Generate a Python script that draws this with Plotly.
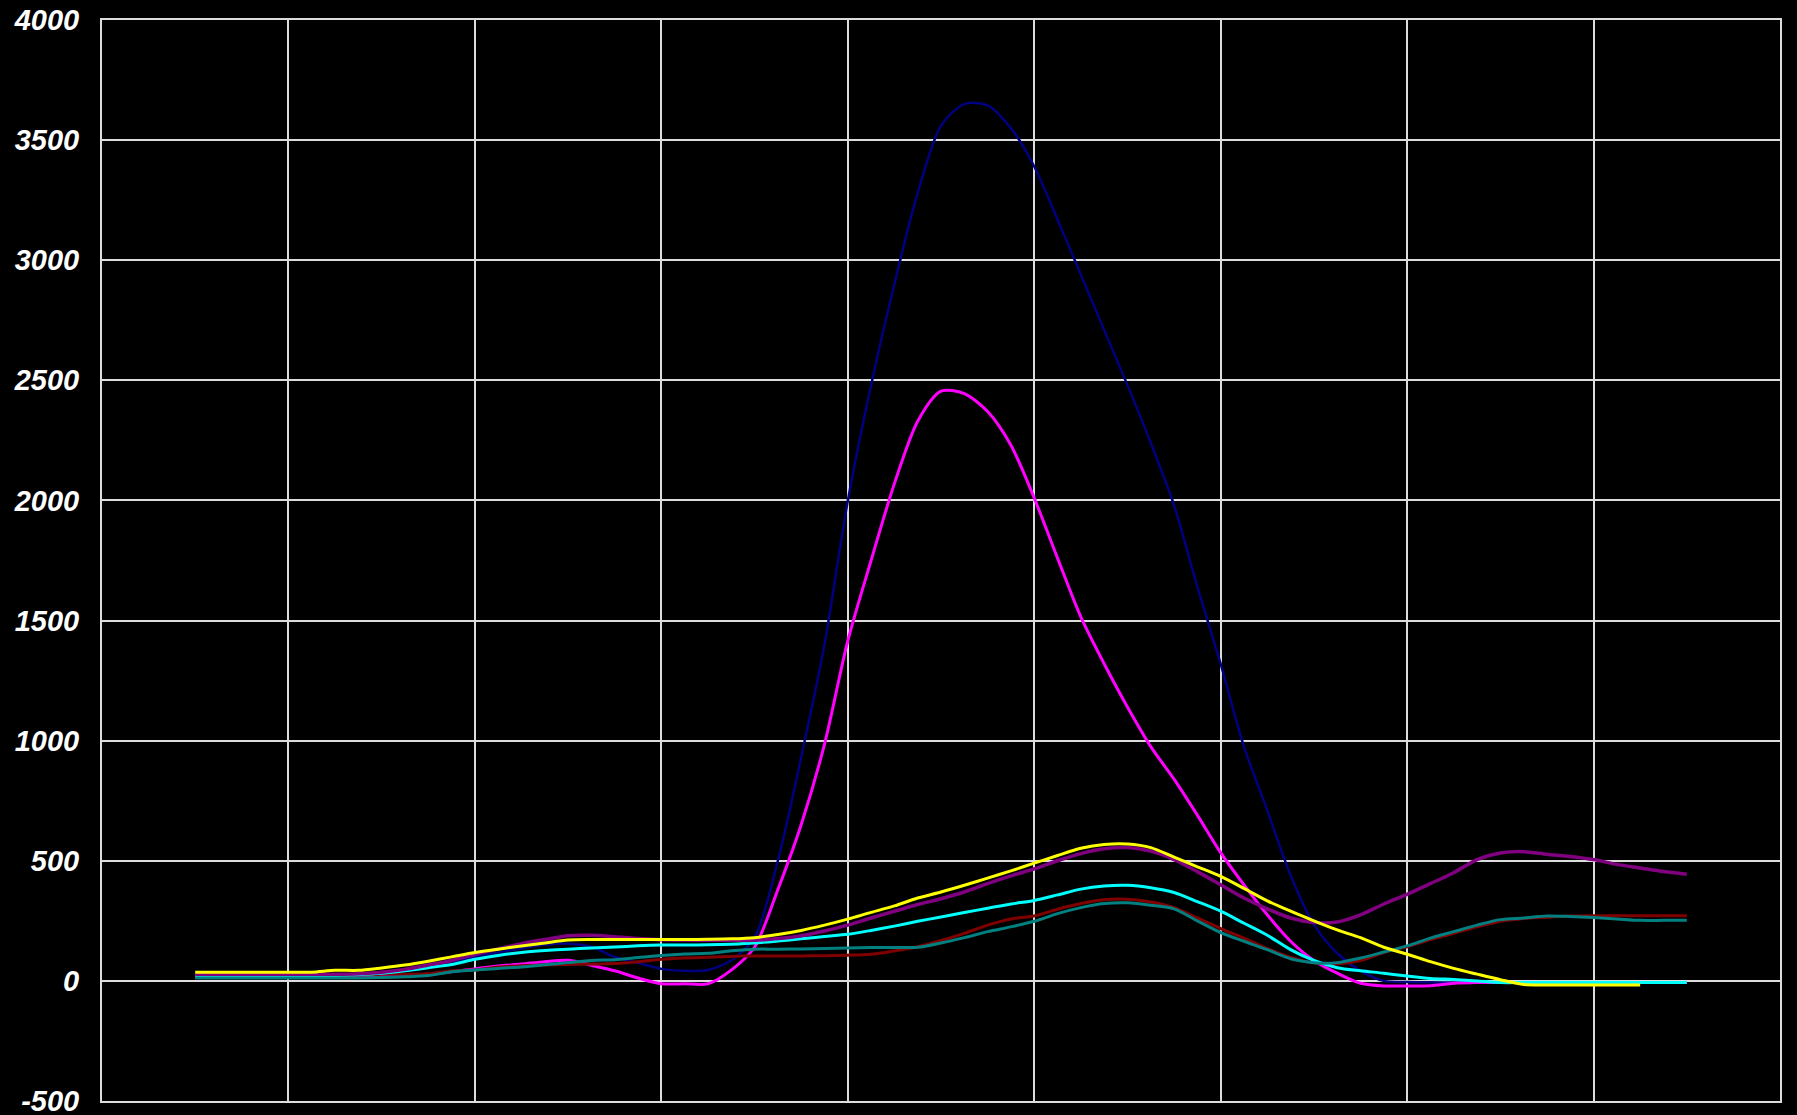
import plotly.graph_objects as go

# shared x positions (grid units, 9 columns)
x_vals = [0.5 + 0.125 * i for i in range(65)]

navy = [18, 18, 18, 18, 18, 18, 20, 24, 30, 42, 60, 80,
        100, 118, 135, 150, 155, 142, 100, 75, 50, 42, 45, 85,
        180, 500, 930, 1400, 1998, 2480, 2900, 3280, 3560, 3650, 3645, 3550,
        3390, 3170, 2940, 2710, 2480, 2240, 1980, 1640, 1320, 975, 710, 440,
        235, 115, 42, 0, -5, -6, -7, -7, -7, -7, -7, -7,
        -7, -7, -7, -7, -7]

magenta = [15, 15, 15, 15, 15, 15, 15, 16, 18, 22, 28, 38,
           50, 62, 70, 80, 86, 65, 42, 12, -12, -12, -12, 45,
           140, 380, 650, 985, 1415, 1750, 2070, 2330, 2455, 2445, 2370, 2230,
           2010, 1760, 1515, 1320, 1140, 975, 840, 690, 534, 400, 275, 165,
           85, 32, -10, -21, -21, -20, -10, -7, -7, -7, -7, -7,
           -7, -7, -7, -7, -7]

maroon = [20, 20, 20, 20, 20, 20, 22, 25, 28, 28, 30, 42,
          45, 58, 63, 66, 68, 70, 72, 80, 90, 95, 98, 102,
          104, 104, 104, 105, 107, 111, 125, 142, 168, 198, 232, 258,
          270, 298, 322, 338, 340, 328, 305, 262, 218, 178, 135, 98,
          75, 70, 85, 118, 142, 172, 198, 225, 248, 260, 265, 270,
          271, 271, 271, 271, 271]

cyan = [20, 20, 20, 20, 20, 20, 22, 26, 32, 42, 55, 68,
        90, 106, 118, 126, 132, 137, 141, 146, 149, 149, 150, 153,
        158, 166, 175, 185, 194, 210, 228, 248, 266, 285, 302, 320,
        335, 358, 382, 395, 398, 388, 368, 330, 290, 240, 190, 130,
        85, 55, 42, 32, 20, 10, 6, 0, -7, -7, -7, -7,
        -7, -7, -7, -7, -7]

teal = [12, 12, 12, 12, 12, 12, 12, 12, 14, 17, 22, 38,
        45, 52, 58, 67, 76, 85, 88, 97, 106, 112, 115, 125,
        132, 132, 133, 135, 137, 139, 139, 140, 158, 180, 205, 225,
        248, 280, 305, 322, 325, 315, 300, 250, 201, 165, 130, 92,
        76, 76, 95, 120, 146, 178, 205, 232, 255, 262, 270, 268,
        264, 258, 252, 252, 252]

purple = [28, 28, 28, 28, 28, 28, 28, 30, 36, 48, 66, 85,
          110, 133, 155, 172, 188, 190, 184, 176, 171, 170, 169, 169,
          169, 176, 188, 208, 232, 262, 290, 318, 342, 370, 405, 437,
          466, 500, 530, 550, 555, 540, 505, 455, 400, 345, 300, 262,
          243, 245, 275, 320, 360, 405, 450, 505, 532, 538, 527, 518,
          505, 485, 470, 455, 444]

yellow = [36, 36, 36, 36, 36, 36, 44, 44, 54, 66, 82, 100,
          118, 132, 145, 158, 170, 172, 172, 172, 172, 172, 173, 175,
          180, 193, 210, 232, 257, 285, 312, 345, 370, 398, 428, 458,
          490, 522, 552, 568, 570, 555, 515, 475, 435, 385, 333, 290,
          250, 212, 180, 140, 111, 80, 52, 28, 5, -15, -17, -17,
          -17, -17, -17, None, None]

y_ticks = [-500, 0, 500, 1000, 1500, 2000, 2500, 3000, 3500, 4000]

series = [
    ("navy", navy, "#000080", 2.5),
    ("magenta", magenta, "#FF00FF", 3),
    ("maroon", maroon, "#800000", 3),
    ("cyan", cyan, "#00FFFF", 3),
    ("teal", teal, "#008080", 3),
    ("purple", purple, "#800080", 3.5),
    ("yellow", yellow, "#FFFF00", 3),
]

fig = go.Figure()
for name, ys, color, w in series:
    fig.add_trace(go.Scatter(x=x_vals, y=ys, mode="lines", name=name,
                             line=dict(color=color, width=w, shape="spline",
                                       smoothing=0.8),
                             connectgaps=False, hoverinfo="skip"))

grid_color = "#dcdcdc"
fig.update_layout(
    width=1797, height=1115,
    margin=dict(l=102, r=17, t=20, b=14, autoexpand=False),
    paper_bgcolor="black", plot_bgcolor="black",
    showlegend=False,
    xaxis=dict(range=[0, 9], dtick=1, tick0=0, showticklabels=False,
               showgrid=True, gridcolor=grid_color, gridwidth=2,
               zeroline=False, showline=True, linecolor=grid_color,
               linewidth=2, mirror=True, ticks="", automargin=False),
    yaxis=dict(range=[-500, 4000], tickvals=y_ticks,
               ticktext=[str(v) for v in y_ticks],
               showgrid=True, gridcolor=grid_color, gridwidth=2,
               zeroline=False, showline=True, linecolor=grid_color,
               linewidth=2, mirror=True, ticks="", automargin=False,
               ticklabelstandoff=15, ticklabeloverflow="allow",
               tickfont=dict(family="Liberation Sans, Arial", size=29,
                             color="white", weight="bold", style="italic")),
)

fig.write_html("out.html",
               config={"displayModeBar": False},
               post_script="document.body.style.margin='0';"
                           "document.body.style.overflow='hidden';")
